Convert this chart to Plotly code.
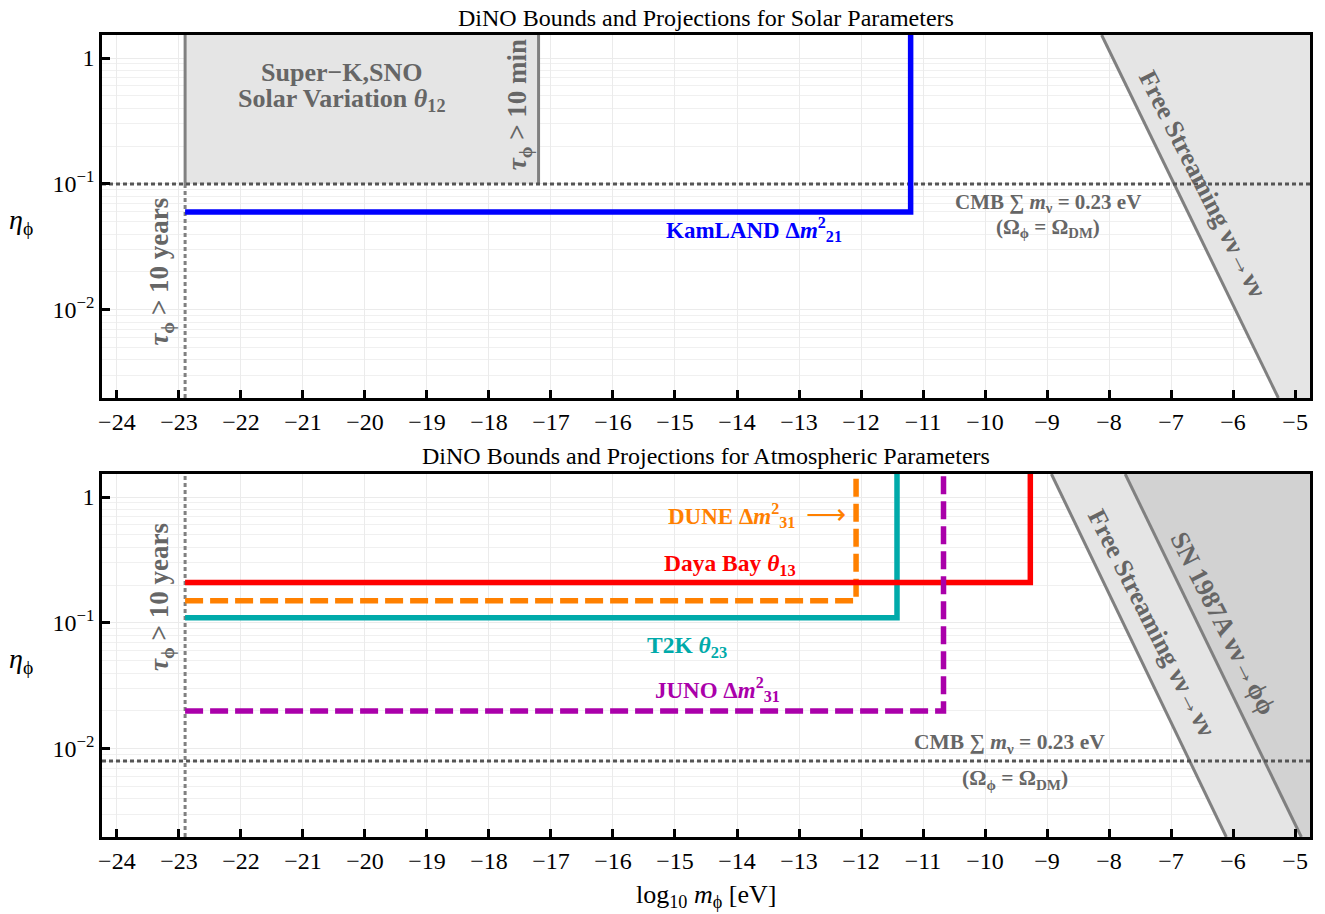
import plotly.graph_objects as go
from plotly.subplots import make_subplots

# ---------------- data ----------------
x_ticks = list(range(-24, -4))
y_tickvals = [0.01, 0.1, 1]
y_ticktext = ["10<sup>\u22122</sup>", "10<sup>\u22121</sup>", "1"]

x_range = [-24.24, -4.76]
y_range_log = [-2.70, 0.183]
y_lo, y_hi = 10 ** y_range_log[0], 10 ** y_range_log[1]

tau_years_x = -22.9          # tau_phi > 10 years
tau_min_x = -17.2            # tau_phi > 10 min

# Solar panel
cmb_solar_eta = 0.1
kamland_eta = 0.06
kamland_xmax = -11.2
fs_solar_x = [-8.12, -5.27]  # free-streaming boundary at top / bottom of axis

# Atmospheric panel
cmb_atm_eta = 0.008
dayabay_eta, dayabay_xmax = 0.21, -9.27
dune_eta, dune_xmax = 0.15, -12.08
t2k_eta, t2k_xmax = 0.11, -11.42
juno_eta, juno_xmax = 0.02, -10.67
fs_atm_x = [-8.93, -6.11]
sn_x = [-7.74, -4.90]

# ---------------- style ----------------
FONT = "Liberation Serif"
GRAY_TXT = "#666666"
LINE_GRAY = "#808080"
DOT_GRAY = "#555555"
LIGHT_FILL = "#e5e5e5"
DARK_FILL = "#d2d2d2"
BLUE = "#0000ff"
RED = "#ff0000"
ORANGE = "#ff8000"
TEAL = "#00aaaa"
PURPLE = "#aa00aa"
LW = 5.5
DASH = "18px,7px"
DOT = "4px,3px"

fig = make_subplots(rows=2, cols=1, vertical_spacing=76 / 802)

def add(row, **kw):
    kw.setdefault("mode", "lines")
    kw.setdefault("showlegend", False)
    kw.setdefault("hoverinfo", "skip")
    fig.add_trace(go.Scatter(**kw), row=row, col=1)

ytop_ext = 3.0
xr_ext = -4.0

# ---- top panel ----
add(1, x=[fs_solar_x[0], fs_solar_x[1], xr_ext, xr_ext], y=[y_hi, y_lo, y_lo, y_hi],
    fill="toself", fillcolor=LIGHT_FILL, line=dict(width=0))
add(1, x=fs_solar_x, y=[y_hi, y_lo], line=dict(color=LINE_GRAY, width=3))
add(1, x=[tau_years_x, tau_min_x, tau_min_x, tau_years_x],
    y=[cmb_solar_eta, cmb_solar_eta, ytop_ext, ytop_ext],
    fill="toself", fillcolor=LIGHT_FILL, line=dict(width=0))
add(1, x=[tau_years_x, tau_years_x], y=[cmb_solar_eta, ytop_ext], line=dict(color=LINE_GRAY, width=3))
add(1, x=[tau_min_x, tau_min_x], y=[cmb_solar_eta, ytop_ext], line=dict(color=LINE_GRAY, width=3))
add(1, x=[tau_years_x, tau_years_x], y=[y_lo, cmb_solar_eta], line=dict(color=LINE_GRAY, width=3, dash=DOT))
add(1, x=x_range, y=[cmb_solar_eta, cmb_solar_eta], line=dict(color=DOT_GRAY, width=3, dash=DOT))
add(1, x=[tau_years_x, kamland_xmax, kamland_xmax], y=[kamland_eta, kamland_eta, ytop_ext],
    line=dict(color=BLUE, width=LW))

# ---- bottom panel ----
add(2, x=[sn_x[0], sn_x[1], xr_ext, xr_ext], y=[y_hi, y_lo, y_lo, y_hi],
    fill="toself", fillcolor=DARK_FILL, line=dict(width=0))
add(2, x=[fs_atm_x[0], fs_atm_x[1], sn_x[1], sn_x[0]], y=[y_hi, y_lo, y_lo, y_hi],
    fill="toself", fillcolor=LIGHT_FILL, line=dict(width=0))
add(2, x=fs_atm_x, y=[y_hi, y_lo], line=dict(color=LINE_GRAY, width=3))
add(2, x=sn_x, y=[y_hi, y_lo], line=dict(color=LINE_GRAY, width=3))
add(2, x=[tau_years_x, tau_years_x], y=[y_lo, ytop_ext], line=dict(color=LINE_GRAY, width=3, dash=DOT))
add(2, x=x_range, y=[cmb_atm_eta, cmb_atm_eta], line=dict(color=DOT_GRAY, width=3, dash=DOT))
add(2, x=[tau_years_x, t2k_xmax, t2k_xmax], y=[t2k_eta, t2k_eta, ytop_ext], line=dict(color=TEAL, width=LW))
add(2, x=[tau_years_x, dune_xmax, dune_xmax], y=[dune_eta, dune_eta, ytop_ext],
    line=dict(color=ORANGE, width=LW, dash=DASH))
add(2, x=[tau_years_x, dayabay_xmax, dayabay_xmax], y=[dayabay_eta, dayabay_eta, ytop_ext],
    line=dict(color=RED, width=LW))
add(2, x=[tau_years_x, juno_xmax, juno_xmax], y=[juno_eta, juno_eta, ytop_ext],
    line=dict(color=PURPLE, width=LW, dash=DASH))

# ---------------- axes ----------------
for r in (1, 2):
    fig.update_xaxes(row=r, col=1, range=x_range, tickvals=x_ticks, ticks="inside", ticklen=8,
                     tickwidth=2.5, tickcolor="black", showline=True, linecolor="black", linewidth=2.5,
                     mirror=True, showgrid=True, gridcolor="#ebebeb", gridwidth=1, zeroline=False,
                     tickfont=dict(family=FONT, size=24, color="black"))
    fig.update_yaxes(row=r, col=1, type="log", range=y_range_log, tickvals=y_tickvals, ticktext=y_ticktext,
                     ticks="inside", ticklen=8, tickwidth=2.5, tickcolor="black", showline=True,
                     linecolor="black", linewidth=2.5, mirror=True, showgrid=True, gridcolor="#ebebeb",
                     minor=dict(dtick="D1", showgrid=True, gridcolor="#f0f0f0", ticks=""),
                     zeroline=False, tickfont=dict(family=FONT, size=24, color="black"))

# ---------------- annotations ----------------
def ann(text, x, y, xref, yref, size=21, color=GRAY_TXT, angle=0, bold=True, **kw):
    t = f"<b>{text}</b>" if bold else text
    fig.add_annotation(text=t, x=x, y=y, xref=xref, yref=yref, showarrow=False, textangle=angle,
                       xanchor="center", yanchor="middle",
                       font=dict(family=FONT, size=size, color=color), **kw)

# titles
ann("DiNO Bounds and Projections for Solar Parameters", 0.5, 1.021, "paper", "paper", size=24,
    color="black", bold=False)
ann("DiNO Bounds and Projections for Atmospheric Parameters", 0.5, 0.475, "paper", "paper", size=24,
    color="black", bold=False)
ann("log<sub>10</sub> <i>m</i><sub>\u03d5</sub> [eV]", 0.5, -0.0736, "paper", "paper", size=26,
    color="black", bold=False)
ann("<i>\u03b7</i><sub>\u03d5</sub>", -0.067, -1.30, "x domain", "y", size=28, color="black", bold=False)
ann("<i>\u03b7</i><sub>\u03d5</sub>", -0.067, -1.30, "x2 domain", "y2", size=28, color="black", bold=False)

# top panel labels
ann("Super\u2212K,SNO", -20.37, -0.115, "x", "y", size=26)
ann("Solar Variation <i>\u03b8</i><sub>12</sub>", -20.37, -0.33, "x", "y", size=26)
ann("<i>\u03c4</i><sub>\u03d5</sub> > 10 min", -17.51, -0.373, "x", "y", size=27, angle=-90)
ann("<i>\u03c4</i><sub>\u03d5</sub> > 10 years", -23.28, -1.70, "x", "y", size=27, angle=-90)
ann("KamLAND \u0394<i>m</i><sup>2</sup><sub>21</sub>", -13.73, -1.365, "x", "y", size=23, color=BLUE)
ann("CMB \u2211 <i>m</i><sub>\u03bd</sub> = 0.23 eV", -8.99, -1.15, "x", "y", size=21)
ann("(\u03a9<sub>\u03d5</sub> = \u03a9<sub>DM</sub>)", -8.99, -1.35, "x", "y", size=21)
ann("Free Streaming \u03bd\u03bd\u2192\u03bd\u03bd", -6.50, -1.0, "x", "y", size=26, angle=63)

# bottom panel labels
ann("<i>\u03c4</i><sub>\u03d5</sub> > 10 years", -23.29, -0.794, "x2", "y2", size=27, angle=-90)
ann("DUNE \u0394<i>m</i><sup>2</sup><sub>31</sub>", -14.09, -0.143, "x2", "y2", size=23, color=ORANGE)
ann("\u27f6", -12.57, -0.14, "x2", "y2", size=28, color=ORANGE, bold=False)
ann("Daya Bay <i>\u03b8</i><sub>13</sub>", -14.11, -0.54, "x2", "y2", size=23.5, color=RED)
ann("T2K <i>\u03b8</i><sub>23</sub>", -14.81, -1.19, "x2", "y2", size=23.5, color=TEAL)
ann("JUNO \u0394<i>m</i><sup>2</sup><sub>31</sub>", -14.31, -1.532, "x2", "y2", size=23, color=PURPLE)
ann("CMB \u2211 <i>m</i><sub>\u03bd</sub> = 0.23 eV", -9.60, -1.96, "x2", "y2", size=21.5)
ann("(\u03a9<sub>\u03d5</sub> = \u03a9<sub>DM</sub>)", -9.52, -2.246, "x2", "y2", size=21.5)
ann("Free Streaming \u03bd\u03bd\u2192\u03bd\u03bd", -7.32, -1.0, "x2", "y2", size=26, angle=63)
ann("SN 1987A \u03bd\u03bd\u2192\u03d5\u03d5", -6.16, -1.0, "x2", "y2", size=26.5, angle=63)

# page body has an 8px default margin, so the figure is offset by 8px
fig.update_layout(width=1317, height=906, margin=dict(l=94, r=13, t=27, b=77),
                  plot_bgcolor="white", paper_bgcolor="white", showlegend=False,
                  font=dict(family=FONT, color="black"))

fig.write_html("out.html")
